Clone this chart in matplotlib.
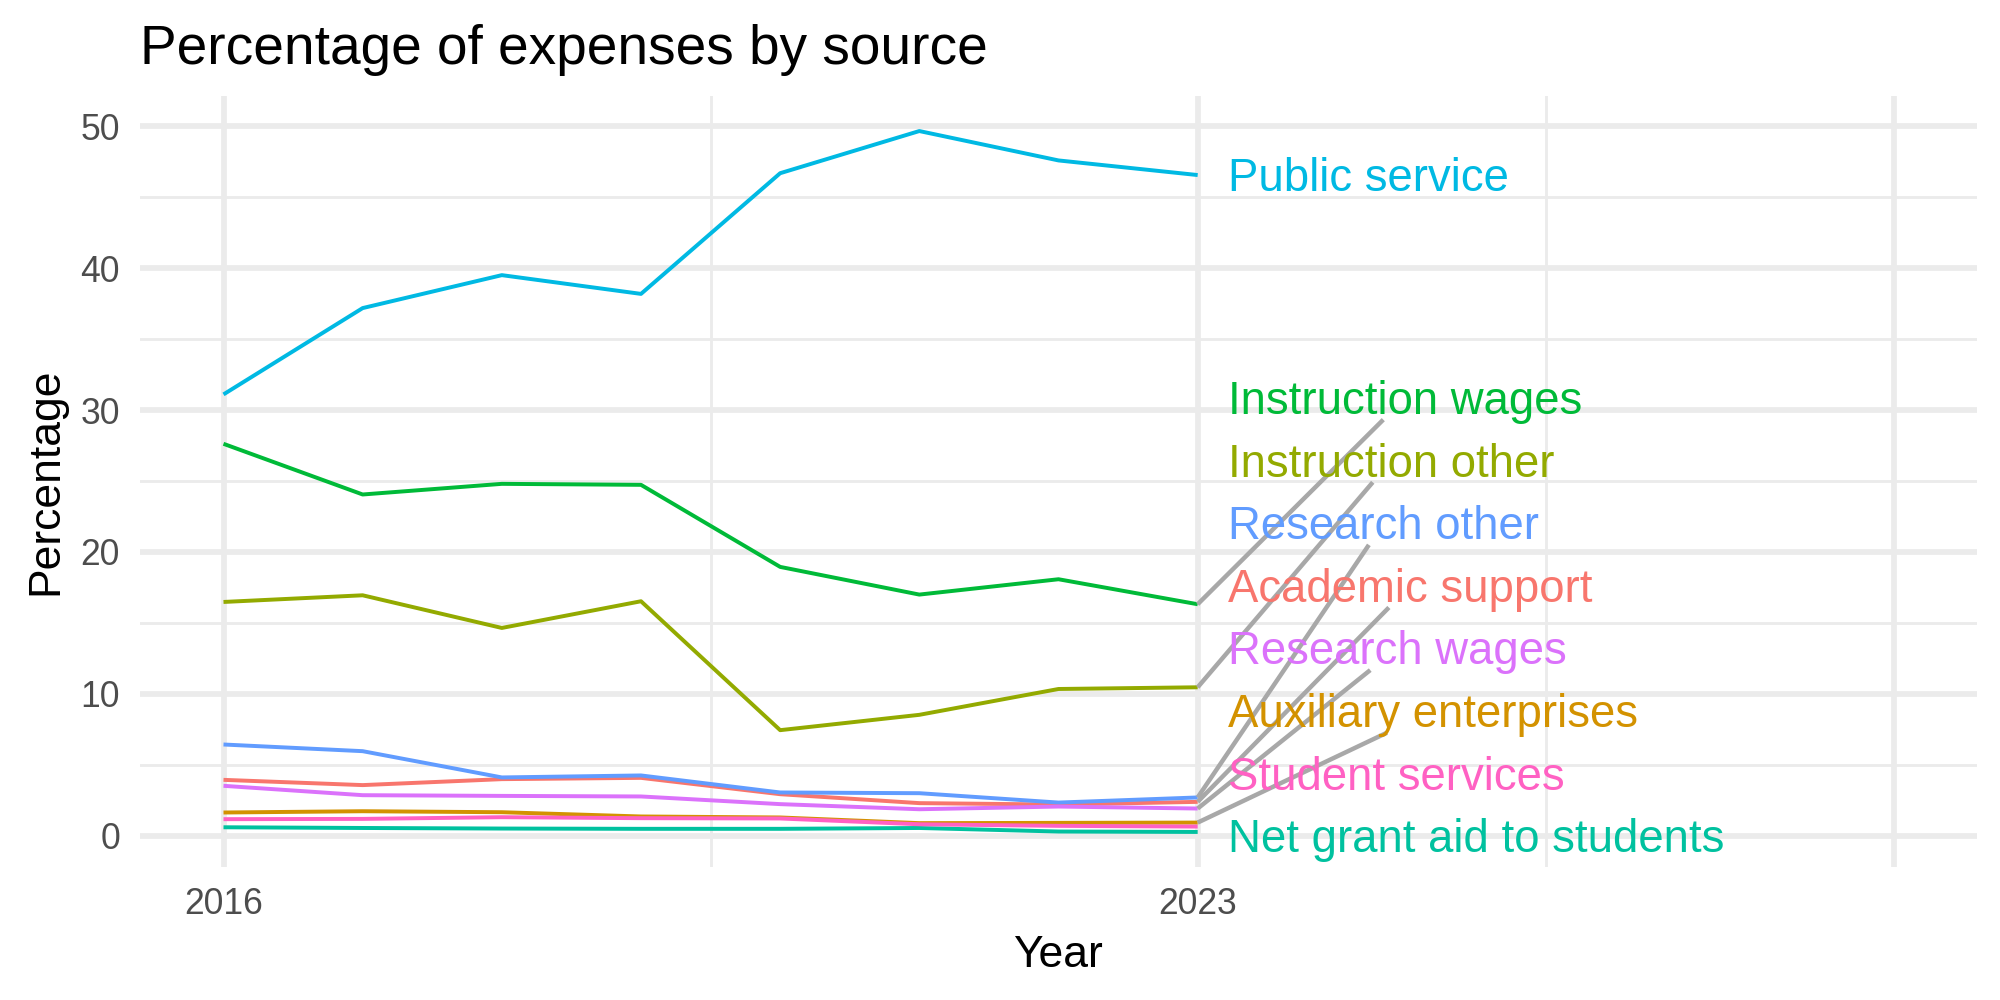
import numpy as np
import matplotlib.pyplot as plt

plt.rcParams['font.family'] = ['Liberation Sans', 'DejaVu Sans']

years = [2016, 2017, 2018, 2019, 2020, 2021, 2022, 2023]

# доля расходов по статьям, %
academic_support = [3.95, 3.58, 4.00, 4.09, 2.94, 2.31, 2.21, 2.40]
auxiliary_enterprises = [1.65, 1.74, 1.67, 1.37, 1.30, 0.90, 0.92, 0.94]
instruction_other = [16.48, 16.95, 14.65, 16.53, 7.45, 8.53, 10.35, 10.47]
instruction_wages = [27.62, 24.05, 24.80, 24.73, 18.95, 17.00, 18.08, 16.32]
net_grant_aid = [0.61, 0.56, 0.52, 0.50, 0.50, 0.56, 0.31, 0.28]
public_service = [31.10, 37.18, 39.50, 38.18, 46.68, 49.65, 47.58, 46.55]
research_other = [6.44, 5.97, 4.12, 4.26, 3.06, 3.01, 2.35, 2.71]
research_wages = [3.53, 2.87, 2.82, 2.78, 2.24, 1.88, 2.07, 1.93]
student_services = [1.18, 1.20, 1.32, 1.25, 1.23, 0.82, 0.71, 0.66]

sources = ["Academic support", "Auxiliary enterprises", "Instruction other",
           "Instruction wages", "Net grant aid to students", "Public service",
           "Research other", "Research wages", "Student services"]
values = [academic_support, auxiliary_enterprises, instruction_other,
          instruction_wages, net_grant_aid, public_service,
          research_other, research_wages, student_services]
colors = ["#F8766D", "#D39200", "#93AA00", "#00BA38", "#00C19F",
          "#00B9E3", "#619CFF", "#DB72FB", "#FF61C3"]

x_end = 2028          # ось тянется дальше данных, чтобы влезли подписи
label_gap = 4.41      # шаг между подписями справа
label_fs = 16.4

fig = plt.figure(figsize=(10, 5), dpi=200)
ax = fig.add_axes([0.07, 0.133, 0.9185, 0.771])

for name, vals, col in zip(sources, values, colors):
    ax.plot(years, vals, color=col, lw=1.42, solid_capstyle='butt',
            solid_joinstyle='round', zorder=2)

# пределы как в ggplot: +5% с каждой стороны
all_vals = np.concatenate([np.array(v) for v in values])
y_lo, y_hi = all_vals.min(), all_vals.max()
y_pad = 0.05 * (y_hi - y_lo)
ax.set_ylim(y_lo - y_pad, y_hi + y_pad)
x_pad = 0.05 * (x_end - years[0])
ax.set_xlim(years[0] - x_pad, x_end + x_pad)

ax.set_xticks([2016, 2023, 2028])
ax.set_xticklabels(['2016', '2023', ''])
ax.set_xticks([2019.5, 2025.5], minor=True)
ax.set_yticks(np.arange(0, 51, 10))
ax.set_yticks(np.arange(5, 50, 10), minor=True)
ax.grid(which='major', color='#EBEBEB', lw=2.07)
ax.grid(which='minor', color='#EBEBEB', lw=1.03)
ax.set_axisbelow(True)
ax.tick_params(which='both', length=0, pad=7.2, labelsize=12.8,
               labelcolor='#4D4D4D')
for s in ax.spines.values():
    s.set_visible(False)

fig.text(0.07, 0.936, "Percentage of expenses by source", fontsize=19.8,
         va='baseline')
fig.text(0.529, 0.033, "Year", ha='center', va='baseline', fontsize=16)
fig.text(0.0125, 0.519, "Percentage", rotation=90, ha='left', va='center',
         fontsize=16)

# подписи справа: раскладка снизу вверх по последнему значению
label_x = years[-1] + 0.22
order = np.argsort([v[-1] for v in values])
label_y = {}
prev = None
for i in order:
    y = 0.0 if prev is None else max(values[i][-1], prev + label_gap)
    label_y[i] = y
    prev = y

cap = 0.716 * label_fs  # высота заглавных, pt
texts = {}
for i in order:
    tr = ax.transData + plt.matplotlib.transforms.ScaledTranslation(
        0, -cap / 2 / 72, fig.dpi_scale_trans)
    texts[i] = ax.text(label_x, label_y[i], sources[i], color=colors[i],
                       fontsize=label_fs, ha='left', va='baseline',
                       transform=tr, zorder=4)

# выноски как у ggrepel
fig.canvas.draw()
renderer = fig.canvas.get_renderer()
pad_x, half_h, min_seg = 8, 22, 45
inv = ax.transData.inverted()
for i in order:
    bb = texts[i].get_window_extent(renderer)
    cy = ax.transData.transform((label_x, label_y[i]))[1]
    lo = np.array([bb.x0 - pad_x, cy - half_h])
    hi = np.array([bb.x1 + pad_x, cy + half_h])
    p = ax.transData.transform((years[-1], values[i][-1]))
    nearest = np.clip(p, lo, hi)
    if np.hypot(*(p - nearest)) < min_seg:
        continue
    c = (lo + hi) / 2
    d = c - p
    t_enter = 0.0
    for k in range(2):
        if d[k] != 0:
            t1, t2 = (lo[k] - p[k]) / d[k], (hi[k] - p[k]) / d[k]
            t_enter = max(t_enter, min(t1, t2))
    end = p + t_enter * d
    a, b = inv.transform(p), inv.transform(end)
    ax.plot([a[0], b[0]], [a[1], b[1]], color='#A8A8A8', lw=1.6,
            solid_capstyle='butt', zorder=3, clip_on=False)

fig.savefig('out.png', dpi=200, facecolor='white')
